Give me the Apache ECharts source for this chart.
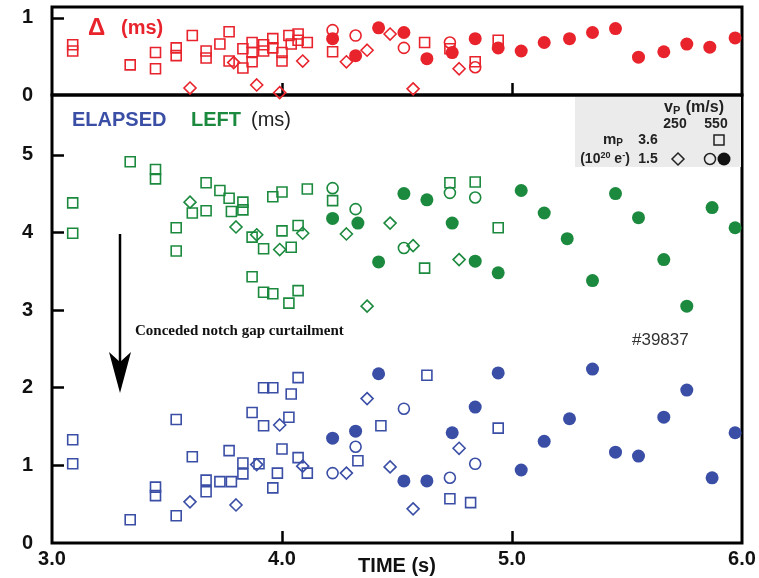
<!DOCTYPE html>
<html>
<head>
<meta charset="utf-8">
<script src="https://cdn.jsdelivr.net/npm/echarts@6/dist/echarts.min.js"></script>
<style>
  html, body { margin: 0; padding: 0; background: #fff; }
  #main { width: 759px; height: 578px; }
</style>
</head>
<body>
<div id="main"></div>
<script>
// colours
const RED = '#e8232c';
const GREEN = '#1c8a3e';
const BLUE = '#3a4ea6';

// top panel: Delta (ms) vs time (s)
const redSquare = [[3.09,0.65],[3.09,0.57],[3.34,0.39],[3.45,0.55],[3.45,0.34],[3.54,0.61],[3.54,0.51],[3.61,0.77],[3.67,0.57],[3.67,0.48],[3.73,0.66],[3.77,0.82],[3.77,0.44],[3.83,0.60],[3.83,0.35],[3.87,0.68],[3.87,0.55],[3.87,0.43],[3.92,0.65],[3.92,0.57],[3.96,0.73],[3.96,0.61],[4.00,0.55],[4.00,0.44],[4.03,0.77],[4.04,0.66],[4.07,0.79],[4.07,0.71],[4.11,0.68],[4.22,0.56],[4.62,0.68],[4.73,0.60],[4.84,0.43],[4.94,0.71]];
const redDiamond = [[3.60,0.09],[3.79,0.42],[3.89,0.13],[3.99,0.03],[4.09,0.44],[4.28,0.43],[4.37,0.58],[4.47,0.79],[4.57,0.08],[4.77,0.34]];
const redOpen = [[4.22,0.84],[4.32,0.77],[4.53,0.61],[4.73,0.68],[4.84,0.36]];
const redFilled = [[4.22,0.73],[4.32,0.51],[4.42,0.87],[4.53,0.81],[4.63,0.47],[4.74,0.55],[4.84,0.73],[4.94,0.61],[5.04,0.57],[5.14,0.68],[5.25,0.73],[5.35,0.81],[5.45,0.86],[5.55,0.49],[5.66,0.56],[5.76,0.66],[5.86,0.62],[5.97,0.74]];

// lower panel: LEFT (green)
const greenSquare = [[3.09,4.38],[3.09,3.99],[3.34,4.91],[3.45,4.81],[3.45,4.69],[3.54,4.06],[3.54,3.76],[3.61,4.25],[3.67,4.28],[3.67,4.64],[3.73,4.54],[3.77,4.44],[3.78,4.27],[3.83,4.39],[3.83,4.29],[3.87,3.94],[3.87,3.43],[3.92,3.23],[3.92,3.79],[3.96,3.21],[3.96,4.46],[4.00,4.52],[4.00,4.02],[4.03,3.09],[4.04,3.81],[4.07,3.25],[4.07,4.09],[4.11,4.56],[4.22,4.41],[4.62,3.54],[4.73,4.64],[4.84,4.65],[4.94,4.06]];
const greenDiamond = [[3.60,4.39],[3.80,4.07],[3.89,3.97],[3.99,3.78],[4.09,3.99],[4.28,3.98],[4.37,3.05],[4.47,4.12],[4.57,3.83],[4.77,3.65]];
const greenOpen = [[4.22,4.57],[4.32,4.30],[4.53,3.80],[4.73,4.51],[4.84,4.45]];
const greenFilled = [[4.22,4.18],[4.33,4.12],[4.42,3.62],[4.53,4.50],[4.63,4.42],[4.74,4.12],[4.84,3.63],[4.94,3.48],[5.04,4.54],[5.14,4.25],[5.24,3.92],[5.35,3.38],[5.45,4.50],[5.55,4.19],[5.66,3.65],[5.76,3.05],[5.87,4.32],[5.97,4.06]];

// lower panel: ELAPSED (blue)
const blueSquare = [[3.09,1.33],[3.09,1.02],[3.34,0.30],[3.45,0.72],[3.45,0.61],[3.54,1.59],[3.54,0.35],[3.61,1.11],[3.67,0.66],[3.67,0.81],[3.73,0.79],[3.77,1.19],[3.78,0.79],[3.83,1.03],[3.83,0.89],[3.87,1.68],[3.90,1.02],[3.92,1.51],[3.92,2.00],[3.96,2.00],[3.96,0.71],[3.98,0.90],[4.00,1.21],[4.03,1.62],[4.04,1.92],[4.07,2.13],[4.07,1.10],[4.11,0.90],[4.33,1.06],[4.43,1.51],[4.63,2.16],[4.73,0.57],[4.82,0.52],[4.94,1.48]];
const blueDiamond = [[3.60,0.53],[3.80,0.49],[3.89,1.01],[3.99,1.52],[4.09,0.99],[4.28,0.90],[4.37,1.86],[4.47,0.98],[4.57,0.44],[4.77,1.22]];
const blueOpen = [[4.22,0.90],[4.32,1.24],[4.53,1.73],[4.73,0.84],[4.84,1.02]];
const blueFilled = [[4.22,1.35],[4.32,1.44],[4.42,2.18],[4.53,0.80],[4.63,0.80],[4.74,1.42],[4.84,1.75],[4.94,2.19],[5.04,0.94],[5.14,1.31],[5.25,1.60],[5.35,2.24],[5.45,1.17],[5.55,1.12],[5.66,1.62],[5.76,1.97],[5.87,0.84],[5.97,1.42]];

// tick labels
const timeTicks = [3, 4, 5, 6];
const deltaTicks = [0, 1];
const msTicks = [0, 1, 2, 3, 4, 5];

const FONT = 'Liberation Sans';

function pts(name, data, color, kind, gi) {
  const s = {
    name: name,
    type: 'scatter',
    xAxisIndex: gi,
    yAxisIndex: gi,
    data: data,
    silent: true,
  };
  if (kind === 'square') {
    s.symbol = 'rect';
    s.symbolSize = 10;
    s.itemStyle = { color: 'rgba(0,0,0,0)', borderColor: color, borderWidth: 1.6, opacity: 1 };
  } else if (kind === 'diamond') {
    s.symbol = 'diamond';
    s.symbolSize = 12;
    s.itemStyle = { color: 'rgba(0,0,0,0)', borderColor: color, borderWidth: 1.6, opacity: 1 };
  } else if (kind === 'open') {
    s.symbol = 'circle';
    s.symbolSize = 11;
    s.itemStyle = { color: 'rgba(0,0,0,0)', borderColor: color, borderWidth: 1.6, opacity: 1 };
  } else {
    s.symbol = 'circle';
    s.symbolSize = 13;
    s.itemStyle = { color: color, opacity: 1 };
  }
  return s;
}

function yAxis(gi, max, labels, ticks) {
  return {
    type: 'value',
    gridIndex: gi,
    min: 0,
    max: max,
    splitLine: { show: false },
    axisLine: { show: false },
    axisTick: { show: true, inside: true, length: 12, customValues: ticks, lineStyle: { color: '#000', width: 2.5 } },
    axisLabel: { customValues: labels, margin: 19, color: '#111', fontFamily: FONT, fontWeight: 'bold', fontSize: 20 },
  };
}

let myChart = echarts.init(document.getElementById('main'));
let option = {
  animation: false,
  backgroundColor: '#fff',
  grid: [
    { left: 52, right: 17, top: 7, height: 88, show: true, borderColor: '#000', borderWidth: 3 },
    { left: 52, right: 17, top: 95, bottom: 35, show: true, borderColor: '#000', borderWidth: 3 },
  ],
  xAxis: [
    {
      type: 'value', gridIndex: 0, min: 3, max: 6,
      splitLine: { show: false }, axisLine: { show: false },
      axisTick: { show: true, inside: true, length: 12, customValues: [4, 5], lineStyle: { color: '#000', width: 2.5 } },
      axisLabel: { show: false },
    },
    {
      type: 'value', gridIndex: 1, min: 3, max: 6,
      splitLine: { show: false }, axisLine: { show: false },
      axisTick: { show: true, inside: true, length: 12, customValues: [4, 5], lineStyle: { color: '#000', width: 2.5 } },
      axisLabel: {
        customValues: timeTicks, margin: 6, color: '#111', fontFamily: FONT, fontWeight: 'bold', fontSize: 20,
        formatter: v => v.toFixed(1),
      },
    },
  ],
  yAxis: [
    yAxis(0, 1.14, deltaTicks, [1]),
    yAxis(1, 5.77, msTicks, [1, 2, 3, 4, 5]),
  ],
  graphic: [
    // panel titles
    { type: 'text', left: 88, top: 16, style: { text: 'Δ', fill: RED, font: 'bold 24px "Liberation Sans"' } },
    { type: 'text', left: 121, top: 18, style: { text: '(ms)', fill: RED, font: 'bold 20px "Liberation Sans"' } },
    { type: 'text', left: 72, top: 110, style: { text: 'ELAPSED', fill: BLUE, font: 'bold 20px "Liberation Sans"' } },
    { type: 'text', left: 191, top: 110, style: { text: 'LEFT', fill: GREEN, font: 'bold 20px "Liberation Sans"' } },
    { type: 'text', left: 251, top: 110, style: { text: '(ms)', fill: '#222', font: '500 20px "Liberation Sans"' } },
    // key box
    { type: 'rect', shape: { x: 575, y: 97, width: 166, height: 70 }, style: { fill: '#ebebeb' } },
    {
      type: 'text', x: 694, y: 108, style: {
        text: '{a|v}{s|P}{a| (m/s)}', align: 'center', verticalAlign: 'middle',
        rich: { a: { font: 'bold 16px "Liberation Sans"', fill: '#222' }, s: { font: 'bold 11px "Liberation Sans"', fill: '#222', padding: [6, 1, 0, 0] } },
      },
    },
    { type: 'text', x: 675, y: 124, style: { text: '250', align: 'center', verticalAlign: 'middle', fill: '#222', font: 'bold 14px "Liberation Sans"' } },
    { type: 'text', x: 716, y: 124, style: { text: '550', align: 'center', verticalAlign: 'middle', fill: '#222', font: 'bold 14px "Liberation Sans"' } },
    {
      type: 'text', x: 613, y: 140, style: {
        text: '{a|m}{s|P}', align: 'center', verticalAlign: 'middle',
        rich: { a: { font: 'bold 15px "Liberation Sans"', fill: '#222' }, s: { font: 'bold 10px "Liberation Sans"', fill: '#222', padding: [6, 0, 0, 0] } },
      },
    },
    { type: 'text', x: 648, y: 140, style: { text: '3.6', align: 'center', verticalAlign: 'middle', fill: '#222', font: 'bold 14px "Liberation Sans"' } },
    {
      type: 'text', x: 605, y: 159, style: {
        text: '{a|(10}{p|20}{a| e}{p|-}{a|)}', align: 'center', verticalAlign: 'middle',
        rich: { a: { font: 'bold 14px "Liberation Sans"', fill: '#222' }, p: { font: 'bold 9px "Liberation Sans"', fill: '#222', padding: [0, 0, 6, 0] } },
      },
    },
    { type: 'text', x: 648, y: 159, style: { text: '1.5', align: 'center', verticalAlign: 'middle', fill: '#222', font: 'bold 14px "Liberation Sans"' } },
    { type: 'rect', shape: { x: 714, y: 135, width: 10, height: 10 }, style: { fill: 'none', stroke: '#222', lineWidth: 1.5 } },
    { type: 'polygon', shape: { points: [[678, 153], [684, 159], [678, 165], [672, 159]] }, style: { fill: 'none', stroke: '#222', lineWidth: 1.5 } },
    { type: 'circle', shape: { cx: 710, cy: 159, r: 5.5 }, style: { fill: 'none', stroke: '#222', lineWidth: 1.5 } },
    { type: 'circle', shape: { cx: 724, cy: 159, r: 6.5 }, style: { fill: '#111' } },
    // annotation arrow
    { type: 'line', shape: { x1: 120, y1: 234, x2: 120, y2: 365 }, style: { stroke: '#000', lineWidth: 2.5 } },
    { type: 'polygon', shape: { points: [[109, 352], [120, 393], [131, 352], [120, 362]] }, style: { fill: '#000' } },
    { type: 'text', left: 135, top: 324, style: { text: 'Conceded notch gap curtailment', fill: '#111', font: 'bold 15px "Liberation Serif"' } },
    { type: 'text', left: 632, top: 332, style: { text: '#39837', fill: '#333', font: '17px "Liberation Sans"' } },
    // x axis name
    { type: 'text', x: 397, y: 566, style: { text: 'TIME (s)', align: 'center', verticalAlign: 'middle', fill: '#111', font: 'bold 20px "Liberation Sans"' } },
  ],
  series: [
    pts('dSq', redSquare, RED, 'square', 0),
    pts('dDi', redDiamond, RED, 'diamond', 0),
    pts('dOp', redOpen, RED, 'open', 0),
    pts('dFi', redFilled, RED, 'filled', 0),
    pts('lSq', greenSquare, GREEN, 'square', 1),
    pts('lDi', greenDiamond, GREEN, 'diamond', 1),
    pts('lOp', greenOpen, GREEN, 'open', 1),
    pts('lFi', greenFilled, GREEN, 'filled', 1),
    pts('eSq', blueSquare, BLUE, 'square', 1),
    pts('eDi', blueDiamond, BLUE, 'diamond', 1),
    pts('eOp', blueOpen, BLUE, 'open', 1),
    pts('eFi', blueFilled, BLUE, 'filled', 1),
  ],
};
myChart.setOption(option);
</script>
</body>
</html>
